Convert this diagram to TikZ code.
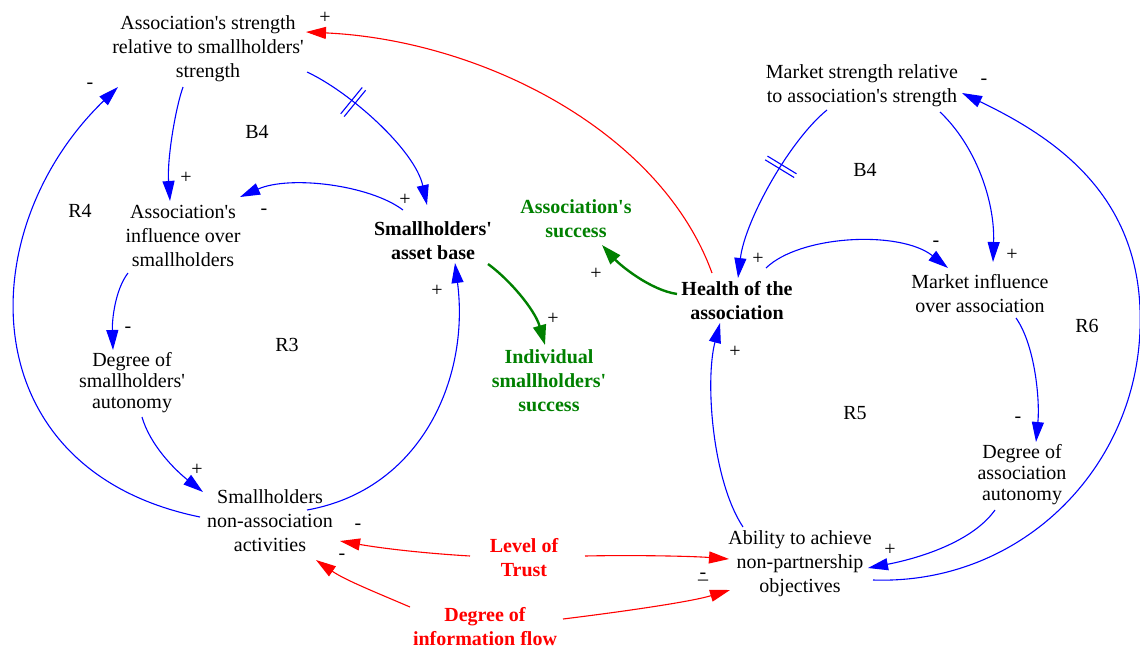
\documentclass[tikz,border=0pt]{standalone}
\usepackage{fontspec}
\setmainfont{Liberation Serif}
\usetikzlibrary{arrows.meta,calc,decorations.markings}
\definecolor{cldblue}{RGB}{0,0,255}
\definecolor{cldred}{RGB}{255,0,0}
\definecolor{cldgreen}{RGB}{0,128,0}
\newcommand{\aq}{\textquotesingle}
\begin{document}
\begin{tikzpicture}[x=1pt,y=-1pt,
  var/.style={font=\fontsize{20}{24}\selectfont, align=center, inner sep=1pt},
  tight/.style={font=\fontsize{20}{21}\selectfont},
  bvar/.style={var, font=\fontsize{20}{24}\selectfont\bfseries},
  gvar/.style={bvar, text=cldgreen},
  rvar/.style={bvar, text=cldred},
  sign/.style={font=\fontsize{20}{20}\selectfont, inner sep=0pt},
  loop/.style={font=\fontsize{20}{20}\selectfont, inner sep=0pt},
  link/.style={draw=cldblue, line width=1.1pt, -{Triangle[length=20pt,width=12pt]}, fill=none},
  rlink/.style={link, draw=cldred},
  glink/.style={link, draw=cldgreen, line width=2.4pt, -{Triangle[length=20pt,width=13pt]}},
  delay/.style={postaction={decorate, decoration={markings, mark=at position #1 with {
      \draw[cldblue, line width=1.1pt, arrows=-] (-2.2pt,-17pt) -- (-2.2pt,17pt) (2.2pt,-17pt) -- (2.2pt,17pt);}}}}
]
\useasboundingbox (0,0) rectangle (1140,653);

% variables
\node[var] (A1) at (208,49) {Association\aq s strength\\relative to smallholders\aq\\strength};
\node[var] (A2) at (183,236) {Association\aq s\\influence over\\smallholders};
\node[bvar] (SAB) at (433,241) {Smallholders\aq\\asset base};
\node[gvar] (AS) at (576,219) {Association\aq s\\success};
\node[gvar] (IS) at (549,381) {Individual\\smallholders\aq\\success};
\node[bvar] (H) at (737,301) {Health of the\\association};
\node[var] (MS) at (862,86) {Market strength relative\\to association\aq s strength};
\node[var] (MI) at (980,294) {Market influence\\over association};
\node[var, tight] (DAA) at (1022,475) {Degree of\\association\\autonomy};
\node[var, tight] (DSA) at (132,383) {Degree of\\smallholders\aq\\autonomy};
\node[var] (SNA) at (270,521) {Smallholders\\non-association\\activities};
\node[var] (AB) at (800,564) {Ability to achieve\\non-partnership\\objectives};
\node[rvar] (LT) at (524,558) {Level of\\Trust};
\node[rvar] (DIF) at (485,627) {Degree of\\information flow};

% loop labels
\node[loop] (L1) at (257,132) {B4};
\node[loop] (L2) at (80,211) {R4};
\node[loop] (L3) at (287,345) {R3};
\node[loop] (L4) at (865,170) {B4};
\node[loop] (L5) at (1087,326) {R6};
\node[loop] (L6) at (855,413) {R5};

% connectors
\draw[link, delay=0.3] ($(A1)+(99,23)$) .. controls (350,92) and (415,150) .. ($(SAB)+(-6,-36)$);
\draw[link] ($(A1)+(-25,38)$) .. controls (175,110) and (167,160) .. ($(A2)+(-13,-35)$);
\draw[link] ($(SAB)+(-30,-31)$) .. controls (370,185) and (290,175) .. ($(A2)+(57,-39)$);
\draw[link] ($(A2)+(-55,37)$) .. controls (115,290) and (112,320) .. ($(DSA)+(-19,-33)$);
\draw[link] ($(DSA)+(10,34)$) .. controls (150,445) and (175,470) .. ($(SNA)+(-67,-29)$);
\draw[link] ($(SNA)+(-70,-4)$) .. controls (-30,470) and (-30,230) .. ($(A1)+(-90,38)$);
\draw[link] ($(SNA)+(37,-11)$) .. controls (420,490) and (470,380) .. ($(SAB)+(22,22)$);
\draw[glink] ($(SAB)+(55,23)$) .. controls (510,280) and (535,310) .. ($(IS)+(-4,-36)$);
\draw[glink] ($(H)+(-60,-7)$) .. controls (650,290) and (620,265) .. ($(AS)+(26,26)$);
\draw[rlink] ($(H)+(-25,-28)$) .. controls (660,130) and (480,40) .. ($(A1)+(98,-17)$);
\draw[link, delay=0.38] ($(MS)+(-35,24)$) .. controls (790,140) and (745,220) .. ($(H)+(1,-23)$);
\draw[link] ($(MS)+(78,26)$) .. controls (975,145) and (995,200) .. ($(MI)+(13,-32)$);
\draw[link] ($(H)+(29,-33)$) .. controls (800,235) and (900,230) .. ($(MI)+(-32,-26)$);
\draw[link] ($(MI)+(36,24)$) .. controls (1035,345) and (1040,400) .. ($(DAA)+(14,-33)$);
\draw[link] ($(DAA)+(-27,35)$) .. controls (970,545) and (910,560) .. ($(AB)+(68,4)$);
\draw[link] ($(AB)+(73,16)$) .. controls (1020,585) and (1135,470) .. (1140,330) .. controls (1145,200) and (1060,140) .. ($(MS)+(100,7)$);
\draw[link] ($(AB)+(-57,-37)$) .. controls (712,480) and (705,380) .. ($(H)+(-17,22)$);
\draw[rlink] ($(LT)+(-54,-2)$) .. controls (420,553) and (380,548) .. ($(SNA)+(70,20)$);
\draw[rlink] ($(LT)+(61,-2)$) .. controls (630,555) and (690,556) .. ($(AB)+(-71,-5)$);
\draw[rlink] ($(DIF)+(-75,-20)$) .. controls (375,592) and (345,580) .. ($(SNA)+(46,39)$);
\draw[rlink] ($(DIF)+(78,-8)$) .. controls (620,612) and (690,602) .. ($(AB)+(-70,26)$);

% polarity signs
\node[sign] (p1) at (325,18) {+};
\node[sign] (p2) at (186,178) {+};
\node[sign] (p3) at (405,200) {+};
\node[sign] (p4) at (264,212) {-};
\node[sign] (p5) at (90,86) {-};
\node[sign] (p6) at (128,330) {-};
\node[sign] (p7) at (197,470) {+};
\node[sign] (p8) at (437,291) {+};
\node[sign] (p9) at (553,319) {+};
\node[sign] (p10) at (596,274) {+};
\node[sign] (p11) at (758,259) {+};
\node[sign] (p12) at (936,244) {-};
\node[sign] (p13) at (1012,255) {+};
\node[sign] (p14) at (984,82) {-};
\node[sign] (p15) at (1018,420) {-};
\node[sign] (p16) at (890,550) {+};
\node[sign] (p17) at (735,352) {+};
\node[sign] (p18) at (358,527) {-};
\node[sign] (p19) at (342,557) {-};
\node[sign, align=center] (p20) at (703,577) {-\\[-20pt]\_};
\end{tikzpicture}
\end{document}
